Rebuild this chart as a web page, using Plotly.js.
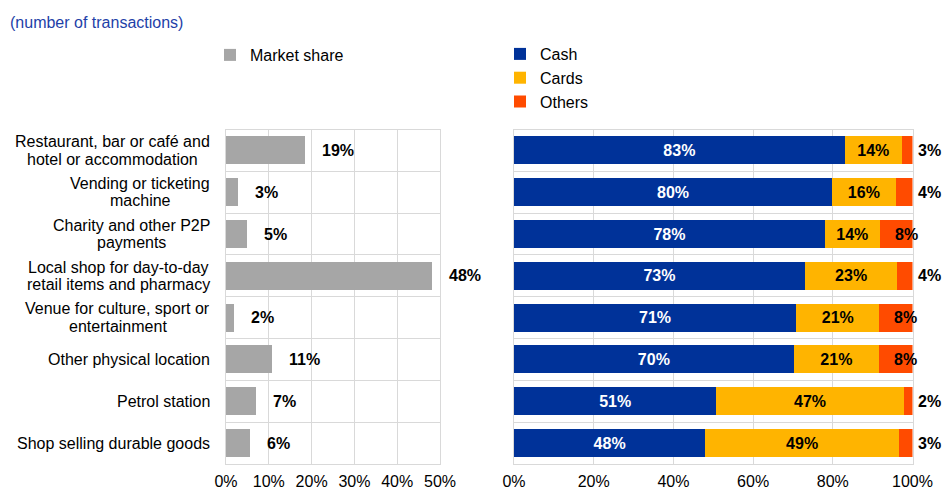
<!DOCTYPE html>
<html>
<head>
<meta charset="utf-8">
<script src="https://cdn.plot.ly/plotly-3.0.1.min.js"></script>
<style>
  html, body { margin: 0; padding: 0; background: #ffffff; }
  #chart { width: 942px; height: 490px; }
</style>
</head>
<body>
<div id="chart"></div>
<script>
// ---------------- data ----------------
const categories = [
  "Restaurant, bar or café and<br>hotel or accommodation",
  "Vending or ticketing<br>machine",
  "Charity and other P2P<br>payments",
  "Local shop for day-to-day<br>retail items and pharmacy",
  "Venue for culture, sport or<br>entertainment",
  "Other physical location",
  "Petrol station",
  "Shop selling durable goods"
];
const marketShare = [18.5, 2.7, 4.9, 48.2, 1.9, 10.8, 7.0, 5.5];
const cash   = [83.0, 79.8, 78.0, 73.0, 70.8, 70.2, 50.8, 48.0];
const cards  = [14.3, 16.0, 13.8, 23.2, 20.9, 21.4, 47.0, 48.6];
const others = [2.7, 4.2, 8.2, 3.8, 8.3, 8.4, 2.2, 3.4];
const leftTicks  = [0, 10, 20, 30, 40, 50];
const leftTickText  = ["0%", "10%", "20%", "30%", "40%", "50%"];
const rightTicks = [0, 20, 40, 60, 80, 100];
const rightTickText = ["0%", "20%", "40%", "60%", "80%", "100%"];
const chartTitle = "(number of transactions)";

// ---------------- styles ----------------
const FONT = "Liberation Sans, Arial, sans-serif";
const GRID = "#d9d9d9";
const W = 942, H = 490;
const pct = v => Math.round(v) + "%";

const traces = [
  {
    type: "bar", orientation: "h", name: "Market share",
    x: marketShare, y: categories, xaxis: "x", yaxis: "y",
    marker: { color: "#a6a6a6" }, legend: "legend", hoverinfo: "skip"
  },
  {
    type: "bar", orientation: "h", name: "Cash",
    x: cash, y: categories, xaxis: "x2", yaxis: "y2",
    marker: { color: "#003299" }, legend: "legend2",
    text: cash.map(pct), textposition: "inside", insidetextanchor: "middle",
    constraintext: "none",
    textfont: { family: FONT, size: 16, color: "#ffffff", weight: "bold" },
    hoverinfo: "skip"
  },
  {
    type: "bar", orientation: "h", name: "Cards",
    x: cards, y: categories, xaxis: "x2", yaxis: "y2",
    marker: { color: "#ffb400" }, legend: "legend2",
    text: cards.map(pct), textposition: "inside", insidetextanchor: "middle",
    constraintext: "none",
    textfont: { family: FONT, size: 16, color: "#000000", weight: "bold" },
    hoverinfo: "skip"
  },
  {
    type: "bar", orientation: "h", name: "Others",
    x: others, y: categories, xaxis: "x2", yaxis: "y2",
    marker: { color: "#ff4b00" }, legend: "legend2", hoverinfo: "skip"
  }
];

// text measurement for centred multi-line category labels
const cv = document.createElement("canvas").getContext("2d");
cv.font = "16px 'Liberation Sans'";
const LABEL_RIGHT = 210, LINE_H = 17.5;

const annotations = [];
categories.forEach(c => {
  const lines = c.split("<br>");
  const maxW = Math.max(...lines.map(l => cv.measureText(l).width));
  const centre = LABEL_RIGHT - maxW / 2;
  lines.forEach((l, k) => annotations.push({
    xref: "paper", yref: "y", x: centre / W, y: c, xanchor: "center", yanchor: "middle",
    yshift: ((lines.length - 1) / 2 - k) * LINE_H,
    text: l, showarrow: false,
    font: { family: FONT, size: 16, color: "#000000" }
  }));
});
// market share labels
categories.forEach((c, i) => annotations.push({
  xref: "x", yref: "y", x: marketShare[i], y: c, xanchor: "left", yanchor: "middle",
  xshift: 15, text: pct(marketShare[i]), showarrow: false,
  font: { family: FONT, size: 16, color: "#000000", weight: "bold" }
}));
// others labels
categories.forEach((c, i) => {
  const total = cash[i] + cards[i] + others[i];
  const big = others[i] >= 5;
  annotations.push({
    xref: "x2", yref: "y2",
    x: big ? cash[i] + cards[i] + others[i] / 2 : total,
    y: c, xanchor: big ? "center" : "left", yanchor: "middle",
    xshift: big ? 10 : 3, text: pct(others[i]), showarrow: false,
    font: { family: FONT, size: 16, color: "#000000", weight: "bold" }
  });
});

const yCommon = {
  type: "category", categoryorder: "array", categoryarray: categories,
  autorange: "reversed", showticklabels: false, ticks: "",
  tickson: "boundaries", showgrid: true, gridcolor: GRID, gridwidth: 1,
  showline: true, mirror: true, linecolor: GRID, linewidth: 1, zeroline: false,
  domain: [1 - 464 / H, 1 - 129.5 / H], fixedrange: true
};
const xCommon = {
  showgrid: true, gridcolor: GRID, gridwidth: 1, zeroline: false,
  showline: true, mirror: true, linecolor: GRID, linewidth: 1,
  ticks: "", tickmode: "array", ticklabelstandoff: 3,
  tickfont: { family: FONT, size: 16, color: "#000000" }, fixedrange: true
};

const layout = {
  width: W, height: H,
  margin: { l: 0, r: 0, t: 0, b: 0 },
  paper_bgcolor: "#ffffff", plot_bgcolor: "#ffffff",
  font: { family: FONT, size: 16, color: "#000000" },
  title: {
    text: chartTitle, x: 10 / W, xanchor: "left", xref: "paper",
    y: 1 - 22 / H, yanchor: "middle", yref: "container",
    font: { family: FONT, size: 16, color: "#1e3fa8" }
  },
  barmode: "stack", bargap: 0.33,
  xaxis: Object.assign({}, xCommon, {
    domain: [226 / W, 440 / W], range: [0, 50],
    tickvals: leftTicks, ticktext: leftTickText,
    anchor: "y", automargin: false
  }),
  xaxis2: Object.assign({}, xCommon, {
    domain: [514 / W, 912.5 / W], range: [0, 100],
    tickvals: rightTicks, ticktext: rightTickText,
    anchor: "y2", automargin: false
  }),
  yaxis: Object.assign({}, yCommon, { anchor: "x", automargin: false }),
  yaxis2: Object.assign({}, yCommon, { anchor: "x2", automargin: false }),
  showlegend: true,
  legend: {
    x: 210 / W, y: 1 - 38 / H, xanchor: "left", yanchor: "top",
    font: { family: FONT, size: 16, color: "#000000" },
    bgcolor: "rgba(0,0,0,0)", traceorder: "normal"
  },
  legend2: {
    x: 500 / W, y: 1 - 37 / H, xanchor: "left", yanchor: "top",
    font: { family: FONT, size: 16, color: "#000000" },
    bgcolor: "rgba(0,0,0,0)", traceorder: "normal", tracegroupgap: 0
  },
  annotations: annotations
};

Plotly.newPlot("chart", traces, layout, { displayModeBar: false, staticPlot: true });
</script>
</body>
</html>
